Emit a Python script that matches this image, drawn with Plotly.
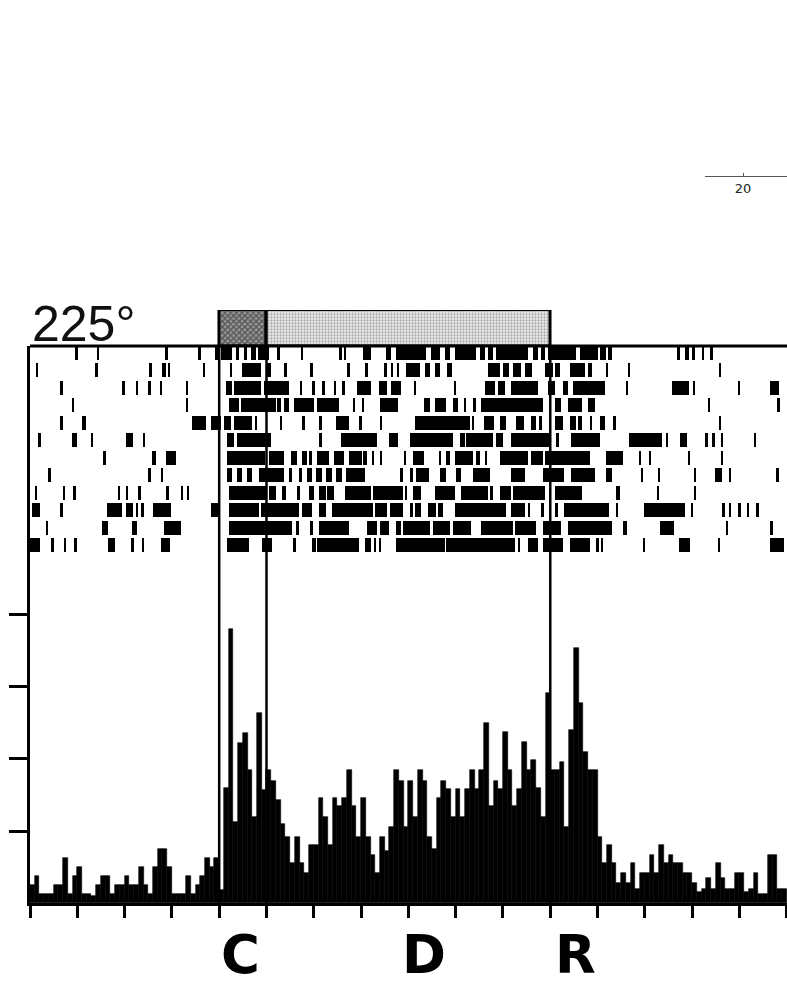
import plotly.graph_objects as go

W, H = 787, 988

# ---------------- data ----------------
# PSTH: 10 ms bins starting at -400 ms (stimulus onset C = 0 ms)
bin_ms = 10
t_first_bin = -400
psth = [2.5, 3.8, 1.3, 1.3, 1.3, 2.5, 2.5, 6.3, 1.3, 3.8, 5, 1.3, 1.3, 1, 2.5, 3.8, 3.8, 1.3, 2.5, 2.5,
        3.8, 2.5, 2.5, 5, 2.5, 1.3, 5, 7.5, 7.5, 5, 1.3, 1.3, 1.3, 3.8, 1.3, 2.5, 3.8, 6.3, 5, 6.3,
        1.8, 16, 38, 11.3, 22.2, 23.6, 18.5, 12, 26.4, 15.7, 18.5, 17, 14.3, 11,
        9.2, 5.6, 9.2, 5.6, 4.2, 8, 8, 14.6, 12, 8, 14.6, 13.5, 14.6, 18.5, 13.5, 9.2, 14.6, 9.2, 6.7, 4.2, 9.2, 7.2,
        10.6, 18.5, 17, 10.6, 17, 12, 18.5, 17, 9.2, 7.5, 14.6, 17, 15.8, 12, 15.8, 12, 15.8, 18.5, 15.8, 18.5,
        25, 13.5, 17, 15.8, 23.8, 18.5, 13.5, 15.8, 22.4, 18.5,
        19.9, 16, 12, 29.2, 18.5, 18.5, 19.6, 10.6, 24, 35.4, 27.8, 21, 18.5, 18.5,
        9.2, 5.6, 8, 5.6, 2.8, 4.2, 2.8, 5.6, 2, 4.2, 4.2, 6.7, 4.2, 8, 5.6, 6.7, 5.6, 5.6, 4.2, 4.2, 2.8,
        1.5, 2, 3.5, 2, 5.6, 3.5, 2, 2, 4.2, 4.2, 1.5, 2, 4.2, 1.3, 1.3, 6.7, 6.7, 2, 2]

psth_ticks = [10, 20, 30, 40]
time_ticks = list(range(-400, 1201, 100))

# events (ms): C onset, end of first phase, R
event_times = [0, 100, 700]
letter_text = ["C", "D", "R"]
letter_times = [44, 433, 754]

# stimulus bar phases (ms)
stim_start = [0, 100]
stim_end = [100, 700]

title_text = "225°"

# raster: single spikes (ms) or dense bursts [start, end] (ms), one list per trial
row01 = [-301, -256, -111, -41, [-8, -2], [4, 27], [36, 42], [53, 59], [67, 78], [82, 105], 126, 175, [253, 259], 266,
         [305, 320], [352, 364], [373, 438], [448, 467], [478, 488], [499, 543], [552, 562], [568, 579], [585, 653],
         [663, 674], [680, 688], [695, 754], [762, 800], [806, 817], [823, 831], [968, 975], [985, 994], [1000, 1006],
         1023, 1041]
row02 = [-385, -259, -145, [-120, -112], -105, -32, 25, [48, 88], [99, 109], 141, 196, 274, 312, 352, 366, 379,
         [396, 425], [436, 446], [457, 467], [482, 493], [568, 594], [600, 613], [621, 638], [646, 661], [688, 705],
         [711, 720], [741, 773], [779, 789], 821, 867, 1059]
row03 = [-333, -202, -173, -147, -122, -67, [15, 27], [32, 88], [95, 147], 173, 200, 221, 246, [259, 267], [291, 320],
         [337, 354], [364, 385], 415, 499, [562, 583], [589, 604], [617, 674], [695, 709], [726, 737], [747, 815], 863,
         [958, 994], 1004, 1099, [1164, 1183]]
row04 = [-309, -67, [21, 42], [46, 120], [122, 131], [137, 147], [158, 200], [206, 253], 286, 305, [341, 379],
         [432, 446], [457, 480], [495, 505], 520, [537, 543], [554, 684], [709, 722], [737, 768], [779, 794], 1036, 1183]
row05 = [-333, [-291, -282], [-57, -27], [-17, 4], [11, 25], [32, 69], 78, 131, 179, 215, [246, 274], 299, 343,
         [415, 530], 537, [560, 581], [594, 606], [627, 644], [659, 669], 680, [711, 726], [741, 754], [758, 768],
         [783, 789], [806, 815], [832, 838], 1059]
row06 = [-379, [-312, -301], -269, [-196, -183], -158, [17, 32], [38, 109], 215, [257, 333], [358, 379], [404, 495],
         [509, 520], [522, 579], [585, 600], [617, 699], 716, [743, 806], [867, 937], 947, [975, 989], 1031, 1046,
         1063, 1133]
row07 = [-242, [-143, -133], [-112, -91], [17, 97], [105, 137], [152, 164], [175, 185], [189, 196], [206, 232],
         [242, 263], [274, 301], [305, 312], 326, 343, 394, [410, 432], 467, [480, 488], [499, 537], [543, 552], 564,
         [594, 653], [659, 684], [688, 785], [817, 853], 890, 911, 994, 1063]
row08 = [-358, -147, -120, [17, 27], [38, 48], [59, 69], [84, 137], [147, 154], [168, 175], [185, 196], [204, 217],
         [225, 238], [246, 259], [269, 309], [383, 389], [404, 410], [417, 444], [467, 480], [501, 512], [537, 573],
         [617, 646], [684, 730], [743, 794], [817, 831], 895, 930, 1006, [1048, 1063], 1080, 1181]
row09 = [-387, -328, -305, -211, -194, -168, -109, -78, -65, [21, 99], [105, 120], [133, 141], 168, [189, 200],
         [211, 225], [227, 242], [267, 320], [326, 389], 396, [410, 427], [457, 499], [512, 568], [573, 579],
         [594, 617], [621, 688], [709, 768], [838, 848], 928, 1006]
row10 = [[-396, -379], -333, [-238, -206], [-196, -183], -173, -162, [-141, -101], [-17, -2], [21, 84], [88, 168],
         [175, 196], [211, 225], [238, 326], [330, 354], [362, 389], [404, 410], [415, 427], [442, 459], [463, 474],
         [499, 606], [617, 646], 655, 684, 714, [730, 825], 842, [899, 985], 1000, 1067, 1080, 1101, 1118, 1139]
row11 = [-364, [-248, -236], [-185, -173], [-116, -80], [21, 154], [162, 168], 196, [211, 274], [312, 333],
         [341, 358], [373, 385], [389, 446], [453, 488], [495, 533], [554, 621], [625, 669], [684, 722], [737, 831],
         [853, 863], [933, 962], 1074, 1168]
row12 = [[-400, -379], -352, -326, -303, [-236, -221], -183, -160, [-122, -103], [17, 63], [91, 112], 160, [196, 204],
         [206, 295], [309, 322], 330, 341, [373, 478], [480, 625], 634, [653, 674], [684, 726], [741, 783], 800, 810,
         899, [972, 996], 1057, [1164, 1194]]
raster_rows = [row01, row02, row03, row04, row05, row06, row07, row08, row09, row10, row11, row12]

mini_axis_ticks = [20]

# ---------------- figure ----------------
def py(px):
    return 1 - px / H

fig = go.Figure()

# PSTH
centers = [t_first_bin + bin_ms * (i + 0.5) for i in range(len(psth))]
fig.add_trace(go.Bar(x=centers, y=psth, width=bin_ms, marker=dict(color="black", line=dict(color="black", width=0.6)),
                     xaxis="x", yaxis="y", hoverinfo="skip"))

# raster
ys, bases, lens = [], [], []
for k, row in enumerate(raster_rows, start=1):
    for item in row:
        if isinstance(item, (list, tuple)):
            a, b = item
        else:
            a, b = item - 2, item + 2
        ys.append(k)
        bases.append(a)
        lens.append(b - a)
fig.add_trace(go.Bar(x=lens, y=ys, base=bases, orientation="h", width=0.8,
                     marker=dict(color="black", line=dict(width=0)), xaxis="x", yaxis="y2", hoverinfo="skip"))

# stimulus bar
patterns = [dict(shape="x", fgcolor="#111", bgcolor="#9a9a9a", size=4, solidity=0.6),
            dict(shape=".", fgcolor="#666", bgcolor="#efefef", size=3, solidity=0.45)]
for s, e, p in zip(stim_start, stim_end, patterns):
    fig.add_trace(go.Bar(x=[e - s], y=[0], base=[s], orientation="h", width=1,
                         marker=dict(color="white", pattern=p, line=dict(color="black", width=2.5)),
                         xaxis="x", yaxis="y3", hoverinfo="skip"))

# mini axis fragment (top right)
fig.add_trace(go.Scatter(x=[], y=[], xaxis="x4", yaxis="y4"))

x_left = 30 / W
fig.update_layout(
    width=W, height=H, margin=dict(l=0, r=0, t=0, b=0, pad=0),
    paper_bgcolor="white", plot_bgcolor="white", showlegend=False, barmode="overlay", bargap=0,
    xaxis=dict(domain=[x_left, 1], range=[-400, 1200.5], anchor="y", showgrid=False, zeroline=False,
               showline=True, linecolor="black", linewidth=3, ticks="outside", ticklen=12, tickwidth=2.5,
               tickcolor="black", tickvals=time_ticks, showticklabels=False),
    yaxis=dict(domain=[py(903), py(555)], range=[0, 48.33], anchor="x", showgrid=False, zeroline=False,
               showline=True, linecolor="black", linewidth=3, ticks="outside", ticklen=18, tickwidth=2.5,
               tickcolor="black", tickvals=psth_ticks, showticklabels=False),
    yaxis2=dict(domain=[py(555), py(346)], range=[12.57, 0.6], anchor="x", showgrid=False, zeroline=False,
                showline=True, linecolor="black", linewidth=3, ticks="", showticklabels=False),
    yaxis3=dict(domain=[py(346), py(310)], range=[-0.5, 0.5], anchor="x", visible=False),
    xaxis4=dict(domain=[705 / W, 1], range=[16.2, 24.4], anchor="y4", showgrid=False, zeroline=False,
                showline=True, linecolor="#555", linewidth=1, ticks="inside", ticklen=3, tickcolor="#555",
                tickvals=mini_axis_ticks, tickfont=dict(family="DejaVu Sans", size=13, color="#222")),
    yaxis4=dict(domain=[py(176), py(174)], anchor="x4", visible=False),
)

# top frame line of raster box
fig.add_shape(type="line", xref="paper", yref="paper", x0=x_left, x1=1, y0=py(346), y1=py(346),
              line=dict(color="black", width=3))
# event lines
for t in event_times:
    fig.add_shape(type="line", xref="x", yref="paper", x0=t, x1=t, y0=py(903), y1=py(310),
                  line=dict(color="black", width=2.5))

# title
fig.add_annotation(text=title_text, xref="paper", yref="paper", x=x_left, y=py(324), xanchor="left",
                   yanchor="middle", showarrow=False,
                   font=dict(family="Liberation Sans, Arial", size=50, color="#111"))
# event letters
for txt, t in zip(letter_text, letter_times):
    fig.add_annotation(text=f"<b>{txt}</b>", xref="x", yref="paper", x=t, y=py(987), xanchor="center",
                       yanchor="bottom", showarrow=False,
                       font=dict(family="DejaVu Sans", size=53, color="black"))

fig.write_html("out.html", config={"displayModeBar": False},
               post_script="document.body.style.margin='0px';document.body.style.overflow='hidden';")
